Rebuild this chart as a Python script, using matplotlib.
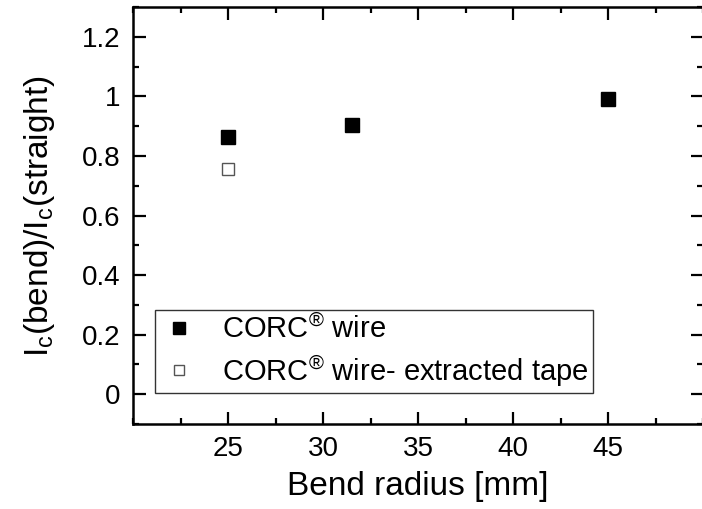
import matplotlib
matplotlib.use("Agg")
import matplotlib.pyplot as plt
from matplotlib.ticker import MultipleLocator, FuncFormatter

plt.rcParams['font.family'] = ['Liberation Sans', 'DejaVu Sans']
plt.rcParams['mathtext.fontset'] = 'custom'
plt.rcParams['mathtext.rm'] = 'Liberation Sans'

wire_x = [25, 31.5, 45]
wire_y = [0.865, 0.905, 0.99]
tape_x = [25]
tape_y = [0.757]

fig = plt.figure(figsize=(7.02, 5.09), dpi=100)
ax = fig.add_axes([0.1895, 0.167, 0.812, 0.819])

ax.plot(wire_x, wire_y, 's', color='black', markersize=9.5, linestyle='none',
        label=r'CORC$^\mathregular{®}$ wire')
ax.plot(tape_x, tape_y, 's', markerfacecolor='white', markeredgecolor='#555555',
        markeredgewidth=1.0, markersize=8.5, linestyle='none',
        label=r'CORC$^\mathregular{®}$ wire- extracted tape')

ax.set_xlim(20, 50)
ax.set_ylim(-0.1, 1.3)
ax.xaxis.set_major_locator(MultipleLocator(5))
ax.xaxis.set_minor_locator(MultipleLocator(2.5))
ax.yaxis.set_major_locator(MultipleLocator(0.2))
ax.yaxis.set_minor_locator(MultipleLocator(0.1))
ax.yaxis.set_major_formatter(FuncFormatter(lambda v, p: f"{v:g}" if abs(v) > 1e-9 else "0"))
ax.set_xticks([25, 30, 35, 40, 45])

ax.tick_params(which='both', direction='in', top=True, right=True, width=1.6)
ax.tick_params(which='major', length=9, labelsize=20, pad=9)
ax.tick_params(which='minor', length=4.5)
for s in ax.spines.values():
    s.set_linewidth(1.8)

ax.set_xlabel('Bend radius [mm]', fontsize=24, labelpad=6)
ax.set_ylabel(r'I$_\mathregular{c}$(bend)/I$_\mathregular{c}$(straight)', fontsize=24, labelpad=18)

leg = ax.legend(loc='lower left', bbox_to_anchor=(0.039, 0.0745), fontsize=21,
                frameon=True, fancybox=False, edgecolor='black', handletextpad=0.85,
                borderpad=0.15, labelspacing=0.3, handlelength=1.3, borderaxespad=0,
                markerscale=0.85)
leg.get_frame().set_linewidth(1.0)

fig.savefig('out.png', dpi=100)
